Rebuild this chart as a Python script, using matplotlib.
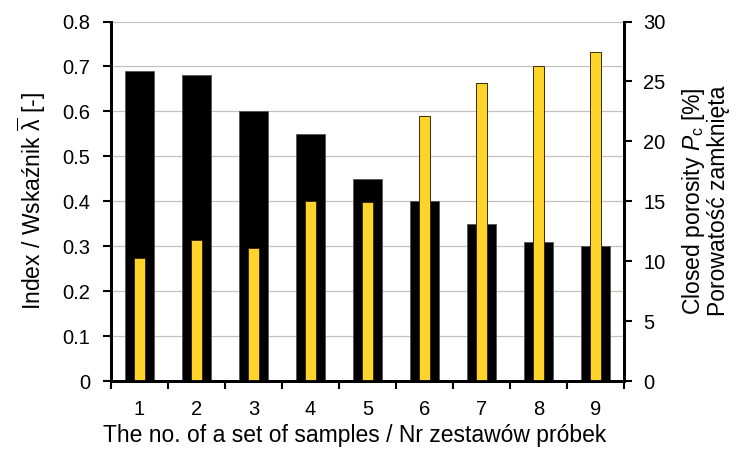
import matplotlib.pyplot as plt
import numpy as np

plt.rcParams['font.family'] = ['Liberation Sans', 'DejaVu Sans']
plt.rcParams['mathtext.fontset'] = 'custom'
plt.rcParams['mathtext.rm'] = 'Liberation Sans'
plt.rcParams['mathtext.it'] = 'Liberation Sans:italic'

# Data
samples = [1, 2, 3, 4, 5, 6, 7, 8, 9]
index_lambda = [0.69, 0.68, 0.60, 0.55, 0.45, 0.40, 0.35, 0.31, 0.30]
closed_porosity = [10.3, 11.8, 11.1, 15.0, 14.9, 22.1, 24.9, 26.3, 27.5]

fig = plt.figure(figsize=(7.45, 4.49), dpi=100)
ax = fig.add_axes([0.149, 0.1514, 0.6886, 0.8006])
ax2 = ax.twinx()

x = np.array(samples)
ax.bar(x, index_lambda, width=0.51, color='black', edgecolor='#555555', linewidth=0.6, zorder=2)
ax2.bar(x, closed_porosity, width=0.2, color='#FFD42A', edgecolor='#3a2a00', linewidth=0.7, zorder=2)

ax.set_xlim(0.5, 9.5)
ax.set_ylim(0, 0.8)
ax2.set_ylim(0, 30)

ax.set_yticks(np.arange(0, 0.81, 0.1))
ax.set_yticklabels(['0'] + [f'{v:.1f}' for v in np.arange(0.1, 0.81, 0.1)])
ax2.set_yticks(range(0, 31, 5))

ax.set_xticks(x)
ax.set_xticklabels([str(s) for s in samples])
ax.set_xticks(np.arange(0.5, 9.6, 1.0), minor=True)
ax.tick_params(axis='x', which='major', length=0, pad=14, labelsize=14.5)
ax.tick_params(axis='x', which='minor', length=6, width=1.5, direction='out')
ax.tick_params(axis='y', length=6, width=1.5, direction='out', labelsize=14.5, pad=9)
ax2.tick_params(axis='y', length=6, width=1.5, direction='out', labelsize=14.5, pad=8)

ax.grid(axis='y', color='#c4c0bc', linewidth=0.9)
ax.set_axisbelow(True)

for a in (ax, ax2):
    a.spines['top'].set_visible(False)
    for s in ('left', 'right', 'bottom'):
        a.spines[s].set_linewidth(2)
        a.spines[s].set_color('black')

ax.set_xlabel('The no. of a set of samples / Nr zestawów próbek', fontsize=16.5)
ax.xaxis.set_label_coords(0.474, -0.12)
ax.set_ylabel(r'Index / Wskaźnik $\overline{\mathrm{\lambda}}$ [-]', fontsize=16.5, labelpad=10)
ax2.set_ylabel('Closed porosity $P_{\\mathrm{c}}$ [%]\nPorowatość zamknięta', fontsize=16.5,
               labelpad=10, linespacing=1.0)

fig.savefig('out.png', dpi=100)
